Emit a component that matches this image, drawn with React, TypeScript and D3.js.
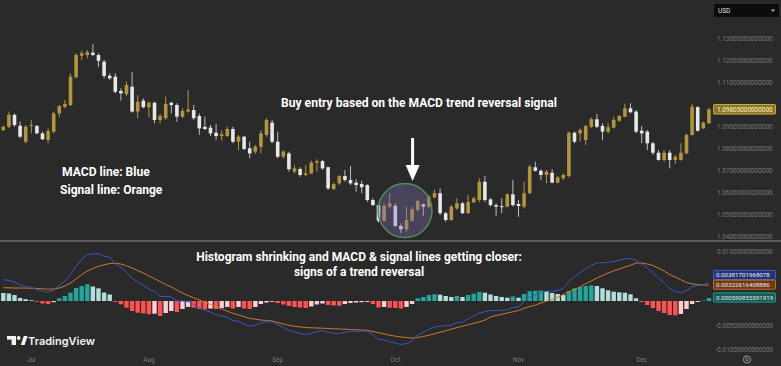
import React from "react";
import * as d3 from "d3";

// ---------- Price data (EUR/USD daily) ----------
const opens = [
  1.0886, 1.0901, 1.0955, 1.0906, 1.0833, 1.0907, 1.0905, 1.0871, 1.0841, 1.0879,
  1.0962, 1.0992, 1.1000, 1.1126, 1.1224, 1.1227, 1.1238, 1.1227, 1.1197, 1.1133,
  1.1129, 1.1064, 1.1050, 1.1083, 1.0970, 1.1020, 1.0990, 1.1010, 1.0932, 1.0940,
  1.1010, 1.1000, 1.0947, 1.0970, 1.0977, 1.0950, 1.0901, 1.0897, 1.0874, 1.0859,
  1.0859, 1.0891, 1.0833, 1.0856, 1.0803, 1.0788, 1.0810, 1.0864, 1.0920, 1.0833,
  1.0765, 1.0780, 1.0697, 1.0709, 1.0682, 1.0689, 1.0738, 1.0745, 1.0717, 1.0618,
  1.0644, 1.0677, 1.0659, 1.0647, 1.0641, 1.0636, 1.0568, 1.0545, 1.0474, 1.0538,
  1.0542, 1.0450, 1.0435, 1.0474, 1.0523, 1.0549, 1.0538, 1.0580, 1.0599, 1.0508,
  1.0477, 1.0530, 1.0553, 1.0508, 1.0558, 1.0568, 1.0651, 1.0571, 1.0545, 1.0540,
  1.0538, 1.0594, 1.0550, 1.0538, 1.0599, 1.0717, 1.0701, 1.0682, 1.0692, 1.0647,
  1.0667, 1.0677, 1.0874, 1.0871, 1.0841, 1.0901, 1.0935, 1.0905, 1.0879, 1.0897,
  1.0929, 1.0947, 1.0985, 1.0970, 1.0883, 1.0879, 1.0826, 1.0783, 1.0750, 1.0783,
  1.0750, 1.0750, 1.0780, 1.0864, 1.0990, 1.0894, 1.0917,
];
const highs = [
  1.0906, 1.0970, 1.0962, 1.0924, 1.0909, 1.0932, 1.0909, 1.0879, 1.0894, 1.0970,
  1.1000, 1.1023, 1.1144, 1.1235, 1.1247, 1.1250, 1.1277, 1.1235, 1.1205, 1.1144,
  1.1144, 1.1076, 1.1106, 1.1151, 1.1045, 1.1030, 1.1015, 1.1015, 1.0959, 1.1038,
  1.1015, 1.1008, 1.0985, 1.1068, 1.1000, 1.0962, 1.0947, 1.0909, 1.0914, 1.0886,
  1.0901, 1.0901, 1.0864, 1.0859, 1.0833, 1.0818, 1.0886, 1.0940, 1.0932, 1.0879,
  1.0795, 1.0788, 1.0727, 1.0717, 1.0727, 1.0747, 1.0753, 1.0750, 1.0720, 1.0647,
  1.0682, 1.0705, 1.0723, 1.0662, 1.0656, 1.0640, 1.0576, 1.0549, 1.0553, 1.0599,
  1.0553, 1.0462, 1.0538, 1.0538, 1.0568, 1.0553, 1.0591, 1.0614, 1.0621, 1.0515,
  1.0545, 1.0576, 1.0560, 1.0591, 1.0583, 1.0667, 1.0677, 1.0576, 1.0553, 1.0576,
  1.0599, 1.0659, 1.0568, 1.0651, 1.0727, 1.0742, 1.0708, 1.0705, 1.0708, 1.0677,
  1.0689, 1.0879, 1.0879, 1.0894, 1.0909, 1.0944, 1.0959, 1.0917, 1.0917, 1.0947,
  1.0955, 1.1005, 1.1008, 1.0977, 1.0905, 1.0886, 1.0833, 1.0795, 1.0795, 1.0795,
  1.0773, 1.0826, 1.0871, 1.1005, 1.0995, 1.0924, 1.0985,
];
const lows = [
  1.0882, 1.0894, 1.0901, 1.0849, 1.0826, 1.0871, 1.0868, 1.0841, 1.0826, 1.0871,
  1.0944, 1.0985, 1.0995, 1.1121, 1.1205, 1.1212, 1.1223, 1.1174, 1.1121, 1.1114,
  1.1053, 1.1020, 1.1041, 1.0965, 1.0940, 1.0985, 1.0944, 1.0917, 1.0917, 1.0932,
  1.0962, 1.0924, 1.0940, 1.0965, 1.0932, 1.0864, 1.0886, 1.0859, 1.0841, 1.0838,
  1.0856, 1.0826, 1.0795, 1.0795, 1.0758, 1.0777, 1.0780, 1.0856, 1.0826, 1.0758,
  1.0758, 1.0697, 1.0689, 1.0674, 1.0677, 1.0686, 1.0697, 1.0705, 1.0614, 1.0614,
  1.0636, 1.0651, 1.0636, 1.0606, 1.0599, 1.0560, 1.0542, 1.0465, 1.0470, 1.0530,
  1.0447, 1.0417, 1.0424, 1.0470, 1.0515, 1.0495, 1.0530, 1.0576, 1.0500, 1.0470,
  1.0474, 1.0523, 1.0505, 1.0505, 1.0553, 1.0560, 1.0560, 1.0538, 1.0495, 1.0508,
  1.0535, 1.0538, 1.0492, 1.0530, 1.0595, 1.0697, 1.0659, 1.0644, 1.0644, 1.0644,
  1.0659, 1.0671, 1.0826, 1.0833, 1.0818, 1.0894, 1.0894, 1.0841, 1.0871, 1.0894,
  1.0924, 1.0944, 1.0962, 1.0871, 1.0826, 1.0795, 1.0773, 1.0747, 1.0742, 1.0712,
  1.0732, 1.0747, 1.0777, 1.0860, 1.0879, 1.0890, 1.0914,
];
const closes = [
  1.0901, 1.0955, 1.0909, 1.0856, 1.0901, 1.0909, 1.0871, 1.0844, 1.0882, 1.0962,
  1.0995, 1.1005, 1.1129, 1.1227, 1.1235, 1.1240, 1.1227, 1.1201, 1.1132, 1.1121,
  1.1060, 1.1053, 1.1091, 1.0970, 1.1015, 1.0990, 1.1010, 1.0932, 1.0950, 1.1005,
  1.1000, 1.0947, 1.0973, 1.0980, 1.0940, 1.0894, 1.0891, 1.0871, 1.0859, 1.0867,
  1.0891, 1.0833, 1.0856, 1.0800, 1.0780, 1.0810, 1.0871, 1.0932, 1.0833, 1.0765,
  1.0788, 1.0708, 1.0712, 1.0682, 1.0689, 1.0738, 1.0745, 1.0712, 1.0621, 1.0641,
  1.0677, 1.0659, 1.0644, 1.0636, 1.0626, 1.0568, 1.0545, 1.0474, 1.0541, 1.0553,
  1.0450, 1.0435, 1.0477, 1.0526, 1.0564, 1.0538, 1.0583, 1.0599, 1.0508, 1.0477,
  1.0538, 1.0553, 1.0508, 1.0560, 1.0576, 1.0651, 1.0568, 1.0545, 1.0538, 1.0536,
  1.0594, 1.0545, 1.0541, 1.0599, 1.0720, 1.0701, 1.0682, 1.0697, 1.0647, 1.0671,
  1.0682, 1.0874, 1.0833, 1.0886, 1.0905, 1.0935, 1.0901, 1.0879, 1.0899, 1.0932,
  1.0950, 1.0985, 1.0967, 1.0879, 1.0871, 1.0826, 1.0783, 1.0750, 1.0783, 1.0750,
  1.0765, 1.0783, 1.0864, 1.0992, 1.0883, 1.0920, 1.09805,
];

// ---------- MACD data (values in price units) ----------
const macdLine = [
  0.00434, 0.00422, 0.00387, 0.00326, 0.0030, 0.00277, 0.00239, 0.00198, 0.0018, 0.00221,
  0.0032, 0.00408, 0.00536, 0.00714, 0.00847, 0.00953, 0.00959, 0.00967, 0.00911, 0.00898,
  0.00751, 0.00688, 0.00581, 0.00469, 0.00383, 0.0032, 0.00239, 0.00196, 0.00092, 0.00092,
  0.00082, 0.0, 0.0, -0.0001, -0.00072, -0.00143, -0.00193, -0.00224, -0.00281, -0.00306,
  -0.0033, -0.00404, -0.00408, -0.00473, -0.00516, -0.00493, -0.00449, -0.00429, -0.00424, -0.0048,
  -0.0054, -0.00598, -0.00636, -0.00663, -0.00684, -0.00659, -0.00622, -0.00606, -0.00643, -0.00659,
  -0.00667, -0.00636, -0.00622, -0.00619, -0.00616, -0.00618, -0.00683, -0.00782, -0.00795, -0.00835,
  -0.00861, -0.00887, -0.00869, -0.00816, -0.0069, -0.00642, -0.00576, -0.00532, -0.0051, -0.00506,
  -0.00493, -0.00441, -0.00432, -0.00364, -0.00306, -0.00244, -0.00219, -0.00193, -0.00194, -0.00189,
  -0.00178, -0.00128, -0.00127, -0.00006, 0.00088, 0.00126, 0.00171, 0.0020, 0.00194, 0.00214,
  0.00255, 0.00394, 0.00494, 0.00576, 0.00659, 0.00728, 0.00775, 0.00779, 0.00789, 0.00806,
  0.0083, 0.00863, 0.00865, 0.0083, 0.00755, 0.00673, 0.00581, 0.00469, 0.00367, 0.00255,
  0.00198, 0.00167, 0.00214, 0.0029, 0.00313, 0.00336, 0.00381701968078,
];
const signalLine = [
  0.00271, 0.00269, 0.00265, 0.00265, 0.00263, 0.00261, 0.00255, 0.00249, 0.00241, 0.00245,
  0.00265, 0.00306, 0.00367, 0.00449, 0.00541, 0.00612, 0.00663, 0.00708, 0.00738, 0.00765,
  0.00771, 0.00755, 0.00718, 0.00673, 0.00622, 0.00571, 0.0051, 0.00455, 0.00398, 0.00337,
  0.00286, 0.00224, 0.00163, 0.00112, 0.00065, 0.0002, -0.00024, -0.00071, -0.00118, -0.00163,
  -0.00208, -0.00251, -0.00286, -0.0032, -0.00353, -0.00371, -0.00388, -0.00398, -0.00408, -0.00439,
  -0.00469, -0.00496, -0.00514, -0.0053, -0.00541, -0.00547, -0.00551, -0.00555, -0.00561, -0.00567,
  -0.00571, -0.00575, -0.00581, -0.00588, -0.00592, -0.00598, -0.00622, -0.00649, -0.00673, -0.00698,
  -0.00718, -0.00734, -0.00747, -0.00755, -0.00745, -0.00724, -0.00698, -0.00669, -0.00639, -0.00608,
  -0.00575, -0.00543, -0.00514, -0.00486, -0.00455, -0.00428, -0.00388, -0.00326, -0.00296, -0.00271,
  -0.00245, -0.0022, -0.00194, -0.00149, -0.00112, -0.00082, -0.00041, -0.00004, 0.00031, 0.00071,
  0.00133, 0.0019, 0.00235, 0.0029, 0.00353, 0.00408, 0.00469, 0.0052, 0.00571, 0.00616,
  0.00653, 0.00694, 0.00728, 0.00775, 0.00775, 0.00755, 0.00724, 0.00673, 0.00612, 0.00541,
  0.0049, 0.00432, 0.00377, 0.00351, 0.00333, 0.00326, 0.00322616408886,
];
const histogram = [
  0.00163, 0.00153, 0.00122, 0.00061, 0.00037, 0.00016, -0.00016, -0.00051, -0.00061, -0.00024,
  0.00055, 0.00102, 0.00169, 0.00265, 0.00306, 0.00341, 0.00296, 0.00259, 0.00173, 0.00133,
  -0.0002, -0.00067, -0.00137, -0.00204, -0.00239, -0.00251, -0.00271, -0.00259, -0.00306, -0.00245,
  -0.00204, -0.00224, -0.00163, -0.00122, -0.00137, -0.00163, -0.00169, -0.00153, -0.00163, -0.00143,
  -0.00122, -0.00153, -0.00122, -0.00153, -0.00163, -0.00122, -0.00061, -0.00031, -0.00016, -0.00041,
  -0.00071, -0.00102, -0.00122, -0.00133, -0.00143, -0.00112, -0.00071, -0.00051, -0.00082, -0.00092,
  -0.00096, -0.00061, -0.00041, -0.00031, -0.00024, -0.0002, -0.00061, -0.00133, -0.00122, -0.00137,
  -0.00143, -0.00153, -0.00122, -0.00061, 0.00055, 0.00082, 0.00122, 0.00137, 0.00129, 0.00102,
  0.00082, 0.00102, 0.00082, 0.00122, 0.00149, 0.00184, 0.00169, 0.00133, 0.00102, 0.00082,
  0.00067, 0.00092, 0.00067, 0.00143, 0.0020, 0.00208, 0.00212, 0.00204, 0.00163, 0.00143,
  0.00122, 0.00204, 0.00259, 0.00286, 0.00306, 0.0032, 0.00306, 0.00259, 0.00218, 0.0019,
  0.00177, 0.00169, 0.00137, 0.00055, -0.0002, -0.00082, -0.00143, -0.00204, -0.00245, -0.00286,
  -0.00292, -0.00265, -0.00163, -0.00061, -0.0002, 0.0001, 0.000590855591919,
];

// ---------- Axis labels ----------
const monthLabels = ["Jul", "Aug", "Sep", "Oct", "Nov", "Dec"];
const monthIndex = [5, 26, 49, 70, 92, 114];
const priceTicks = [1.13, 1.12, 1.11, 1.09, 1.08, 1.07, 1.06, 1.05, 1.04];
const macdTicks = [0.01, -0.005, -0.01];
const lastPriceText = "1.09805000000000";
const macdLabelText = "0.00381701968078";
const signalLabelText = "0.00322616408886";
const histLabelText = "0.000590855591919";

const BG = "#2a2a2a";
const GOLD = "#b39540";
const WHITE = "#e8e8e8";
const BLUE = "#3a56c2";
const ORANGE = "#d0782c";
const AXIS_TXT = "#7a7a7a";

function histColor(i: number): string {
  const h = histogram[i];
  const prev = i > 0 ? histogram[i - 1] : h;
  if (h >= 0) return prev < h ? "#26a69a" : "#b2dfdb";
  return prev < h ? "#ffcdd2" : "#ff5252";
}

export default function App() {
  const n = closes.length;
  const x = d3.scaleLinear().domain([0, n - 1]).range([3.3, 708.9]);
  const yP = d3.scaleLinear().domain([1.04, 1.13]).range([237, 39]);
  const yM = d3.scaleLinear().domain([-0.01, 0.01]).range([350, 252]);

  const lineGen = d3
    .line<number>()
    .x((_, i) => x(i))
    .y((d) => yM(d));
  const macdPath = lineGen(macdLine) || "";
  const signalPath = lineGen(signalLine) || "";

  const bodyW = 3.6;
  const barW = 4.4;
  const y0 = yM(0);

  const axisFont = "Roboto, 'DejaVu Sans', sans-serif";
  const annFont = "Roboto, 'Noto Sans', sans-serif";

  return (
    <svg
      width={781}
      height={366}
      style={{ position: "absolute", left: 0, top: 0, display: "block" }}
    >
      <rect x={0} y={0} width={781} height={366} fill={BG} />

      {/* candles */}
      {closes.map((c, i) => {
        const o = opens[i];
        const up = c >= o;
        const col = up ? GOLD : WHITE;
        const yt = yP(Math.max(o, c));
        const yb = yP(Math.min(o, c));
        return (
          <g key={"c" + i}>
            <line
              x1={x(i)}
              x2={x(i)}
              y1={yP(highs[i])}
              y2={yP(lows[i])}
              stroke={up ? GOLD : "#bdbdbd"}
              strokeWidth={1}
            />
            <rect
              x={x(i) - bodyW / 2}
              y={yt}
              width={bodyW}
              height={Math.max(1, yb - yt)}
              fill={col}
            />
          </g>
        );
      })}

      {/* highlight circle */}
      <circle
        cx={x(72) - 1.5}
        cy={yP(1.0520)}
        r={27}
        fill="rgba(130,112,180,0.36)"
        stroke="#4f8f5e"
        strokeWidth={1.5}
      />

      {/* arrow */}
      <rect x={x(72) + 4.6} y={138} width={3} height={29} fill="#ffffff" />
      <polygon
        points={`${x(72) - 0.9},165 ${x(72) + 13.1},165 ${x(72) + 6.1},181`}
        fill="#ffffff"
      />

      {/* annotations main pane */}
      <text
        x={419}
        y={107}
        fill="#ffffff"
        fontFamily={annFont}
        fontWeight={700}
        fontSize={12.1}
        textAnchor="middle"
      >
        Buy entry based on the MACD trend reversal signal
      </text>
      <text x={62} y={176} fill="#ffffff" fontFamily={annFont} fontWeight={700} fontSize={12.1}>
        MACD line: Blue
      </text>
      <text x={60} y={194} fill="#ffffff" fontFamily={annFont} fontWeight={700} fontSize={12.1}>
        Signal line: Orange
      </text>

      {/* price axis */}
      <rect x={714} y={4} width={65} height={13} fill="#0c0c0c" rx={1} />
      <text x={718} y={13} fill="#e0e0e0" fontFamily={axisFont} fontSize={6.5}>
        USD
      </text>
      <polygon points="771,9.5 775,9.5 773,12" fill="#bbbbbb" />
      {priceTicks.map((p) => (
        <text
          key={"pt" + p}
          x={717}
          y={yP(p) + 2.3}
          fill={AXIS_TXT}
          fontFamily={axisFont}
          fontSize={6.4}
        >
          {p.toFixed(14)}
        </text>
      ))}
      <rect
        x={713.5}
        y={yP(1.09805) - 4.8}
        width={62}
        height={9.6}
        fill="#8c7626"
        stroke="#e3c94a"
        strokeWidth={0.8}
        rx={1}
      />
      <text
        x={717}
        y={yP(1.09805) + 2.3}
        fill="#fff7d6"
        fontFamily={axisFont}
        fontSize={6.4}
      >
        {lastPriceText}
      </text>

      {/* pane separator */}
      <rect x={0} y={240} width={781} height={2} fill="#5a5a5a" />

      {/* histogram */}
      {histogram.map((h, i) => {
        const yy = yM(h);
        return (
          <rect
            key={"h" + i}
            x={x(i) - barW / 2}
            y={Math.min(yy, y0)}
            width={barW}
            height={Math.max(0.6, Math.abs(yy - y0))}
            fill={histColor(i)}
          />
        );
      })}

      {/* MACD & signal lines */}
      <path d={signalPath} fill="none" stroke={ORANGE} strokeWidth={1} />
      <path d={macdPath} fill="none" stroke={BLUE} strokeWidth={1} />

      {/* annotations MACD pane */}
      <text
        x={359}
        y={261}
        fill="#ffffff"
        fontFamily={annFont}
        fontWeight={700}
        fontSize={12}
        textAnchor="middle"
      >
        Histogram shrinking and MACD &amp; signal lines getting closer:
      </text>
      <text
        x={359}
        y={276}
        fill="#ffffff"
        fontFamily={annFont}
        fontWeight={700}
        fontSize={12}
        textAnchor="middle"
      >
        signs of a trend reversal
      </text>

      {/* MACD axis */}
      {macdTicks.map((v) => (
        <text
          key={"mt" + v}
          x={v < 0 ? 715.5 : 717}
          y={yM(v) + 2.3}
          fill={AXIS_TXT}
          fontFamily={axisFont}
          fontSize={6.4}
        >
          {v.toFixed(14)}
        </text>
      ))}
      {[
        { t: macdLabelText, yc: 275, fill: "#24347a", stroke: "#4a68e0" },
        { t: signalLabelText, yc: 284.7, fill: "#6e3a14", stroke: "#e07a2a" },
        { t: histLabelText, yc: 297.5, fill: "#135b52", stroke: "#2bb3a3" },
      ].map((b) => (
        <g key={b.t}>
          <rect
            x={713.5}
            y={b.yc - 4.6}
            width={62}
            height={9.2}
            fill={b.fill}
            stroke={b.stroke}
            strokeWidth={0.8}
            rx={1}
          />
          <text x={716} y={b.yc + 2.3} fill="#e8eefc" fontFamily={axisFont} fontSize={6.2}>
            {b.t}
          </text>
        </g>
      ))}

      {/* time axis */}
      {monthLabels.map((m, k) => (
        <text
          key={m}
          x={x(monthIndex[k])}
          y={362}
          fill={AXIS_TXT}
          fontFamily={axisFont}
          fontSize={6.5}
          textAnchor="middle"
        >
          {m}
        </text>
      ))}
      <circle cx={747} cy={359.5} r={3.6} fill="none" stroke="#9a9a9a" strokeWidth={1} />
      <circle cx={747} cy={359.5} r={1.3} fill="none" stroke="#9a9a9a" strokeWidth={0.8} />

      {/* TradingView watermark */}
      <g fill="#f2f2f2">
        <rect x={7} y={336} width={9} height={3.6} />
        <rect x={11.6} y={336} width={4.4} height={9} />
        <circle cx={18.7} cy={338} r={1.9} />
        <polygon points="20.8,345 23.8,336 27.6,336 24.6,345" />
      </g>
      <text
        x={28}
        y={345}
        fill="#f2f2f2"
        fontFamily="Inter, Roboto, sans-serif"
        fontWeight={600}
        fontSize={11}
      >
        TradingView
      </text>
    </svg>
  );
}
